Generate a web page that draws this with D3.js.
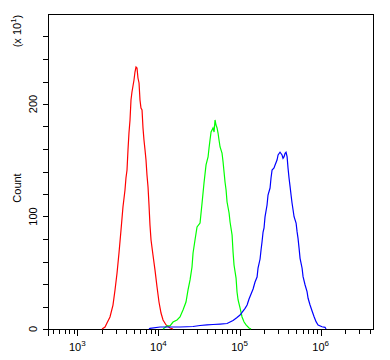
<!DOCTYPE html>
<meta charset="utf-8">
<style>
body { margin: 0; background: #fff; }
text { font-family: "Liberation Sans", Arial, sans-serif; fill: #000; }
</style>
<script src="https://d3js.org/d3.v7.min.js"></script>
<svg width="390" height="360"></svg>
<script>

// histograms: [log10(intensity), count]
var red = [[3.305,0],[3.342,1.8],[3.366,5.3],[3.403,10.7],[3.440,21.3],[3.465,34.7],[3.490,49.8],[3.514,67.6],
  [3.539,88],[3.563,108.4],[3.588,123.6],[3.600,134.2],[3.613,141.3],[3.625,159.1],[3.637,174.2],[3.650,185.8],
  [3.662,203.6],[3.674,210.7],[3.699,221.3],[3.711,228.4],[3.724,232.9],[3.736,232],[3.748,223.1],[3.761,218.7],
  [3.773,203.6],[3.785,196.4],[3.798,194.7],[3.810,178.7],[3.822,168],[3.835,159.1],[3.847,150.2],[3.859,136.9],
  [3.872,126.2],[3.884,110.2],[3.896,92.4],[3.909,79.1],[3.933,65.8],[3.958,52.4],[3.983,37.3],[4.007,24],
  [4.032,14.2],[4.057,8],[4.094,3.6],[4.143,0.9],[4.180,0]];

var green = [[4.057,0],[4.106,2.7],[4.143,2.7],[4.180,6.2],[4.229,8],[4.266,10.7],[4.303,16.9],[4.340,24],
  [4.365,34.7],[4.390,43.6],[4.414,55.1],[4.427,67.6],[4.451,79.1],[4.476,90.7],[4.513,94.2],[4.538,112],
  [4.562,129.8],[4.587,145.8],[4.612,152.9],[4.624,160.9],[4.636,168],[4.649,175.1],[4.673,178.7],[4.686,175.1],
  [4.698,185.8],[4.710,181.3],[4.723,178.7],[4.735,174.2],[4.747,168],[4.760,161.8],[4.784,156.4],[4.797,148.4],
  [4.809,139.6],[4.821,130.7],[4.834,123.6],[4.846,112.9],[4.871,103.1],[4.883,95.1],[4.908,83.6],[4.920,68.4],
  [4.932,56.9],[4.957,45.3],[4.969,32.9],[4.982,25.8],[5.006,18.7],[5.031,10.7],[5.056,6.2],[5.080,3.6],
  [5.117,0.9],[5.142,0]];

var blue = [[3.884,0],[3.896,0.6],[4.020,1.8],[4.143,1.8],[4.266,1.8],[4.353,2],[4.427,2.2],[4.513,3.1],
  [4.599,3.7],[4.673,4],[4.760,4.4],[4.846,4.9],[4.920,7.6],[4.969,10.2],[5.006,12.4],[5.031,14.7],[5.068,18.4],
  [5.093,21.3],[5.117,26.7],[5.142,31.1],[5.167,35.6],[5.191,41.8],[5.216,46.2],[5.228,54.2],[5.253,62.2],
  [5.265,70.2],[5.277,77.3],[5.290,86.2],[5.302,89.8],[5.314,99.6],[5.339,110.2],[5.351,119.1],[5.376,125.3],
  [5.388,134.2],[5.401,141.3],[5.425,143.1],[5.438,145.8],[5.462,150.2],[5.475,154.7],[5.499,157.1],[5.524,154.7],
  [5.536,151.7],[5.549,153.2],[5.561,156.2],[5.573,157.1],[5.586,153.2],[5.598,142.8],[5.610,134.2],[5.623,126.5],
  [5.635,119.1],[5.647,112],[5.660,105.8],[5.672,99.8],[5.697,94.2],[5.709,86.5],[5.721,80.6],[5.734,71.7],
  [5.746,62.8],[5.771,54],[5.783,46.5],[5.808,39.1],[5.832,33.2],[5.845,27.3],[5.869,21.3],[5.894,16],
  [5.919,10.9],[5.943,6.5],[5.968,3.6],[6.017,2],[6.054,1.5],[6.066,0]];

var xDecades = [3, 4, 5, 6];
var yLabels = [0, 100, 200];
var yTicks = [0, 20, 40, 60, 80, 100, 120, 140, 160, 180, 200, 220, 240, 260];

var svg = d3.select("svg");
var pl = 48, pr = 373, pt = 14, pb = 329;

var x = d3.scaleLog().domain([Math.pow(10, 2.639), Math.pow(10, 6.645)]).range([pl, pr]);
var y = d3.scaleLinear().domain([0, 280]).range([pb, pt]);

// minor + major ticks on x
var xTicks = [];
for (var e = 2; e <= 6; e++) {
  for (var m = 1; m <= 9; m++) {
    var v = m * Math.pow(10, e);
    if (v >= x.domain()[0] && v <= x.domain()[1]) xTicks.push({v: v, major: m === 1});
  }
}

svg.selectAll(".xt").data(xTicks).enter().append("line")
    .attr("x1", function(d) { return Math.round(x(d.v)) + 0.5; })
    .attr("x2", function(d) { return Math.round(x(d.v)) + 0.5; })
    .attr("y1", pb)
    .attr("y2", function(d) { return d.major ? pb + 7 : pb + 5; })
    .attr("stroke", "#000");

svg.selectAll(".yt").data(yTicks).enter().append("line")
    .attr("x1", pl - 5).attr("x2", pl)
    .attr("y1", function(d) { return Math.round(y(d)) + 0.5; })
    .attr("y2", function(d) { return Math.round(y(d)) + 0.5; })
    .attr("stroke", "#000");

// frame
svg.append("rect")
    .attr("x", pl + 0.5).attr("y", pt + 0.5)
    .attr("width", pr - pl).attr("height", pb - pt)
    .attr("fill", "none").attr("stroke", "#000");
svg.append("line").attr("x1", pl + 0.5).attr("x2", pl + 0.5)
    .attr("y1", pb).attr("y2", pb + 7).attr("stroke", "#000");

// x labels
var xl = svg.selectAll(".xl").data(xDecades).enter().append("text")
    .attr("x", function(d) { return x(Math.pow(10, d)); })
    .attr("y", 351)
    .attr("text-anchor", "middle")
    .style("font-size", "11px");
xl.append("tspan").text("10");
xl.append("tspan").attr("dy", -5).style("font-size", "8px").text(function(d) { return d; });

// y labels
svg.selectAll(".yl").data(yLabels).enter().append("text")
    .attr("transform", function(d) { return "translate(37," + y(d) + ") rotate(-90)"; })
    .attr("text-anchor", "middle")
    .style("font-size", "11px")
    .text(function(d) { return d; });

svg.append("text")
    .attr("transform", "translate(21,188) rotate(-90)")
    .attr("text-anchor", "middle")
    .style("font-size", "11px")
    .text("Count");

var mult = svg.append("text")
    .attr("transform", "translate(21,31) rotate(-90)")
    .attr("text-anchor", "middle")
    .style("font-size", "11px");
mult.append("tspan").text("(x 10");
mult.append("tspan").attr("dy", -5).style("font-size", "8px").text("1");
mult.append("tspan").attr("dy", 5).text(")");

var line = d3.line()
    .x(function(d) { return x(Math.pow(10, d[0])); })
    .y(function(d) { return y(d[1]); });

[[red, "#ff0000"], [green, "#00ff00"], [blue, "#0000ff"]].forEach(function(s) {
  svg.append("path")
      .datum(s[0])
      .attr("d", line)
      .attr("fill", "none")
      .attr("stroke", s[1])
      .attr("stroke-width", 1.2);
});

</script>
